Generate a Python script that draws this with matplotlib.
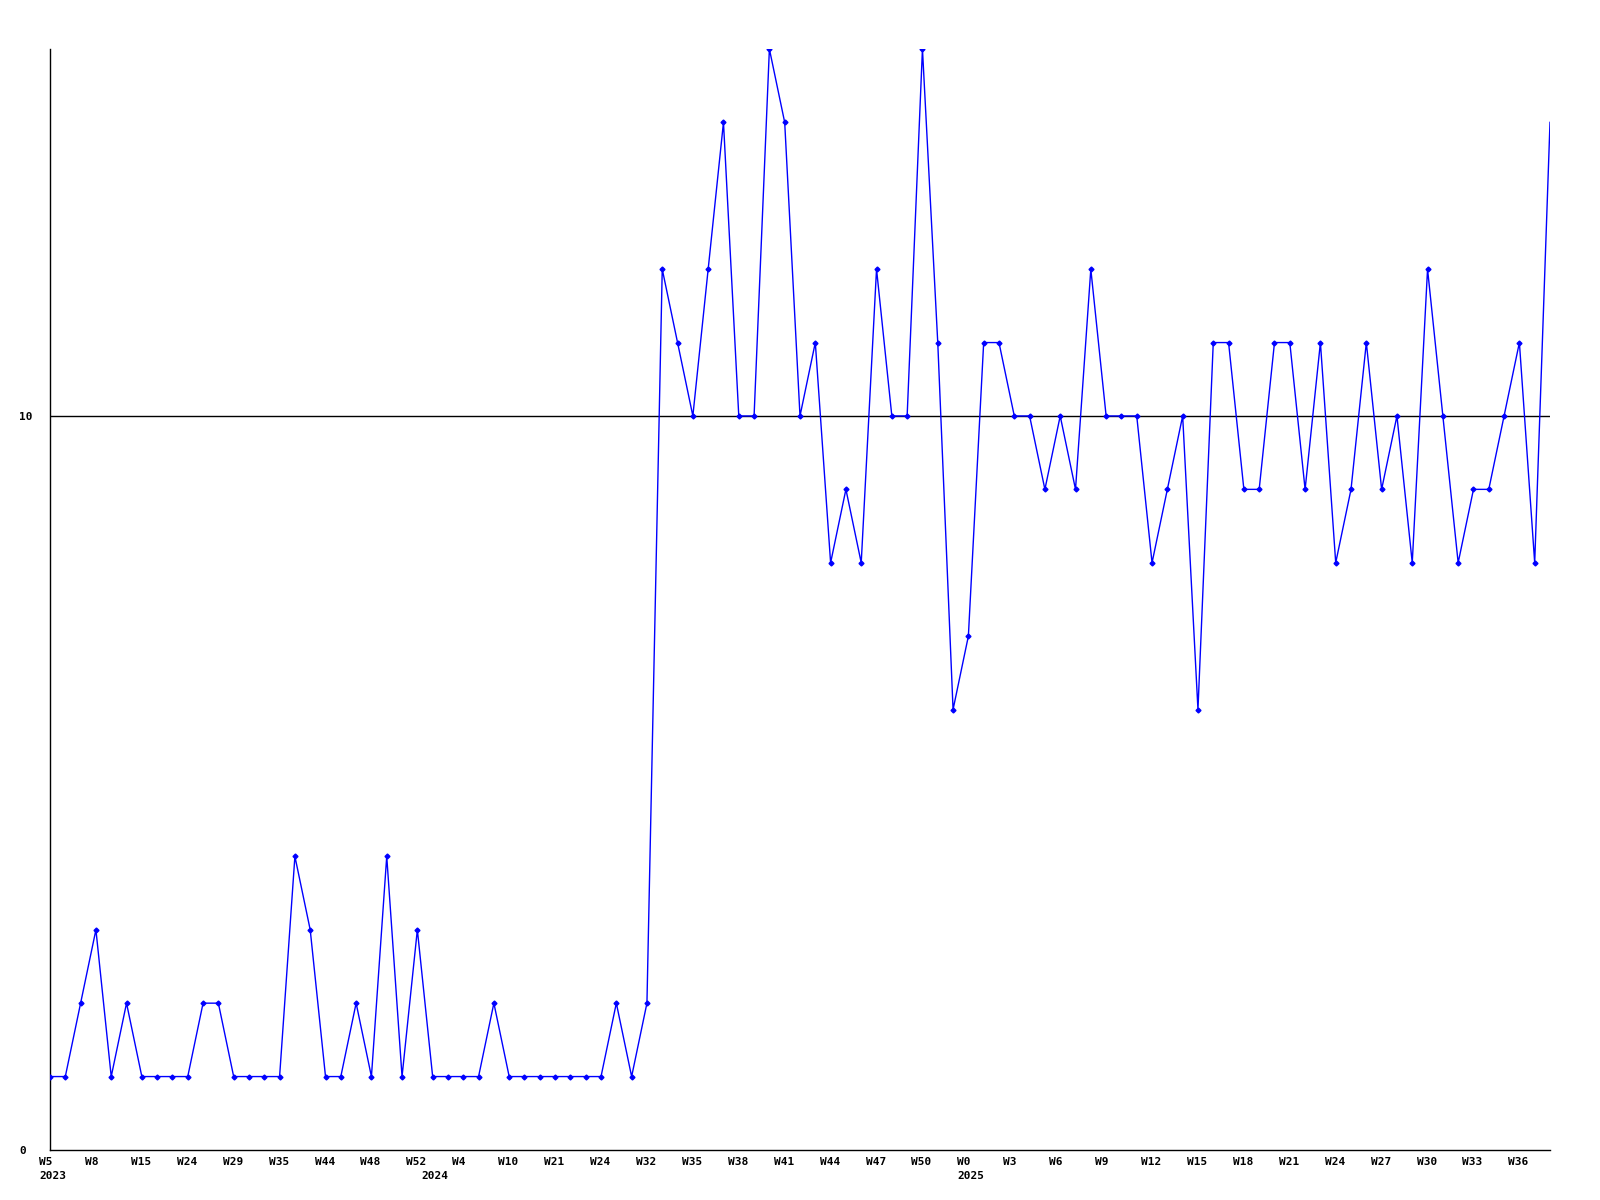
import matplotlib
matplotlib.use("Agg")
import matplotlib.pyplot as plt
import matplotlib.transforms as mtransforms

# ===== DATA =====
values = [1, 1, 2, 3, 1, 2, 1, 1, 1, 1,
          2, 2, 1, 1, 1, 1, 4, 3, 1, 1,
          2, 1, 4, 1, 3, 1, 1, 1, 1, 2,
          1, 1, 1, 1, 1, 1, 1, 2, 1, 2,
          12, 11, 10, 12, 14, 10, 10, 15, 14, 10,
          11, 8, 9, 8, 12, 10, 10, 15, 11, 6,
          7, 11, 11, 10, 10, 9, 10, 9, 12, 10,
          10, 10, 8, 9, 10, 6, 11, 11, 9, 9,
          11, 11, 9, 11, 8, 9, 11, 9, 10, 8,
          12, 10, 8, 9, 9, 10, 11, 8, 14]

week_labels = ["W5", "W8", "W15", "W24", "W29", "W35", "W44", "W48", "W52", "W4",
               "W10", "W21", "W24", "W32", "W35", "W38", "W41", "W44", "W47", "W50",
               "W0", "W3", "W6", "W9", "W12", "W15", "W18", "W21", "W24", "W27",
               "W30", "W33", "W36"]
year_idx = [0, 25, 60]          # point index where each year starts
year_names = ["2023", "2024", "2025"]
y_ticks = [0, 10]

# ===== PLOT =====
fig = plt.figure(figsize=(16, 12), dpi=100)
ax = fig.add_axes([0.03125, 0.0417, 0.9375, 0.9175])

x = list(range(len(values)))
ax.plot(x, values, color="blue", lw=1.0, zorder=3)
ax.plot(x[:-1], values[:-1], ls="none", marker="D", ms=2.5, color="blue", zorder=4)
ax.axhline(10, color="black", lw=1.0, zorder=2)

ax.set_xlim(0, len(values) - 1)
ax.set_ylim(0, 15)

for s in ["top", "right"]:
    ax.spines[s].set_visible(False)
for s in ["left", "bottom"]:
    ax.spines[s].set_linewidth(1.0)

font = dict(fontfamily="DejaVu Sans Mono", fontweight="bold", fontsize=8)

ax.set_xticks(list(range(0, len(values), 3)))
ax.set_xticklabels(week_labels, ha="left", **font)
ax.tick_params(axis="x", length=0, pad=5)
offset = mtransforms.ScaledTranslation(-0.11, 0, fig.dpi_scale_trans)
for lab in ax.get_xticklabels():
    lab.set_transform(lab.get_transform() + offset)

# year labels under the week labels
year_tr = mtransforms.blended_transform_factory(ax.transData, ax.transAxes) + \
    mtransforms.ScaledTranslation(-0.11, -0.265, fig.dpi_scale_trans)
for i, name in zip(year_idx, year_names):
    ax.text(i, 0, name, transform=year_tr, ha="left", va="center", **font)

ax.set_yticks(y_ticks)
ax.set_yticklabels([str(v) for v in y_ticks], ha="left", **font)
ax.tick_params(axis="y", length=0, pad=0)
yoff = mtransforms.ScaledTranslation(-0.31, 0, fig.dpi_scale_trans)
for lab in ax.get_yticklabels():
    lab.set_transform(lab.get_transform() + yoff)

fig.savefig("out.png", dpi=100)
